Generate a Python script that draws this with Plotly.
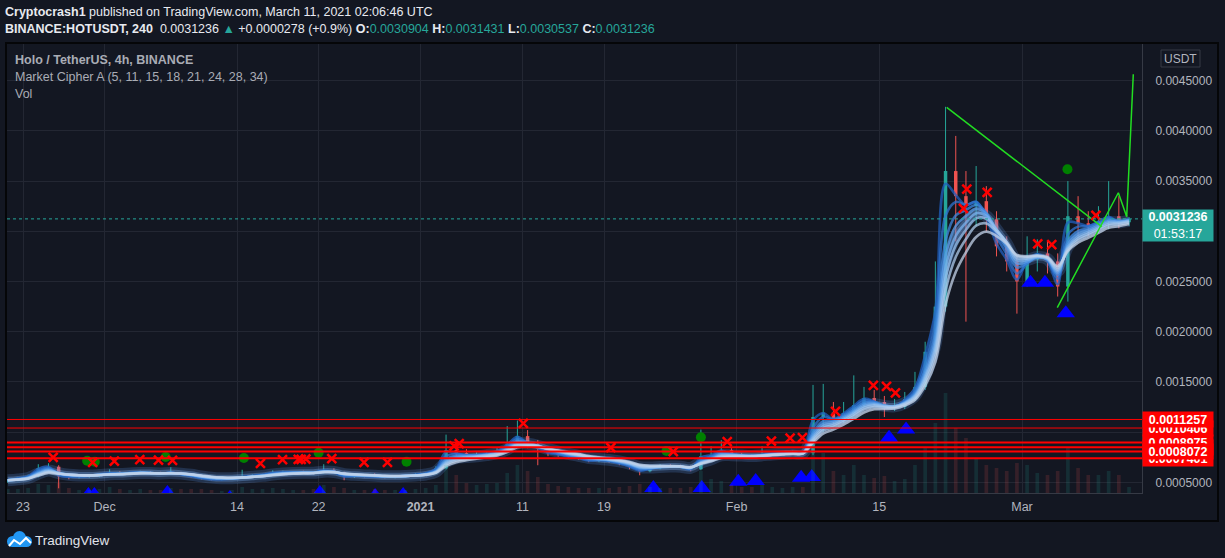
import pandas as pd
import plotly.graph_objects as go

first_day = "2020-11-21 12:00"

opens = [
    # Nov 21 - 30
    0.000505, 0.000520, 0.000540, 0.000560, 0.000640, 0.000655, 0.000560, 0.000555, 0.000560, 0.000565,
    # Dec
    0.000580, 0.000590, 0.000585, 0.000595, 0.000600, 0.000590, 0.000585, 0.000595, 0.000580, 0.000560,
    0.000540, 0.000530, 0.000532, 0.000540, 0.000555, 0.000565, 0.000575, 0.000595, 0.000598, 0.000600,
    0.000597, 0.000595, 0.000620, 0.000600, 0.000555, 0.000565, 0.000562, 0.000560, 0.000555, 0.000558,
    0.000565,
    # Jan
    0.000575, 0.000590, 0.000640, 0.000820, 0.000790, 0.000765, 0.000770, 0.000785, 0.000810, 0.000880,
    0.000960, 0.000880, 0.000840, 0.000790, 0.000775, 0.000755, 0.000740, 0.000715, 0.000722, 0.000712,
    0.000688, 0.000655, 0.000610, 0.000640, 0.000662, 0.000660, 0.000655, 0.000630, 0.000760, 0.000770,
    0.000820,
    # Feb
    0.000772, 0.000760, 0.000758, 0.000775, 0.000790, 0.000792, 0.000798, 0.000790, 0.001150, 0.001195,
    0.001120, 0.001190, 0.001270, 0.001340, 0.001300, 0.001240, 0.001250, 0.001330, 0.001450, 0.001800,
    0.002250, 0.003600, 0.003350, 0.003250, 0.003300, 0.003120, 0.002850, 0.002700,
    # Mar 1 - 11
    0.002500, 0.002720, 0.002780, 0.002700, 0.002450, 0.003150, 0.003080, 0.003050, 0.003100, 0.003150,
    0.003090,
]
highs = [
    0.000530, 0.000545, 0.000575, 0.000680, 0.000690, 0.000670, 0.000585, 0.000575, 0.000580, 0.000590,
    0.000630, 0.000610, 0.000605, 0.000615, 0.000610, 0.000605, 0.000650, 0.000605, 0.000590, 0.000570,
    0.000555, 0.000545, 0.000550, 0.000625, 0.000580, 0.000585, 0.000620, 0.000615, 0.000612, 0.000615,
    0.000610, 0.000680, 0.000640, 0.000605, 0.000575, 0.000580, 0.000590, 0.000575, 0.000570, 0.000580,
    0.000590,
    0.000600, 0.000660, 0.000975, 0.000900, 0.000830, 0.000800, 0.000810, 0.000840, 0.001060, 0.001115,
    0.001020, 0.000920, 0.000860, 0.000820, 0.000800, 0.000780, 0.000760, 0.000745, 0.000740, 0.000725,
    0.000700, 0.000665, 0.000650, 0.000680, 0.000680, 0.000675, 0.000665, 0.001025, 0.000860, 0.000920,
    0.000840,
    0.000790, 0.000780, 0.000860, 0.000810, 0.000810, 0.000815, 0.000815, 0.001470, 0.001480, 0.001300,
    0.001300, 0.001565, 0.001450, 0.001420, 0.001360, 0.001330, 0.001400, 0.001600, 0.001900, 0.002700,
    0.004240, 0.003950, 0.003600, 0.003650, 0.003450, 0.003200, 0.002950, 0.002750,
    0.002950, 0.002920, 0.002900, 0.002780, 0.003500, 0.003350, 0.003200, 0.003250, 0.003500, 0.003350,
    0.003143,
]
lows = [
    0.000495, 0.000510, 0.000530, 0.000550, 0.000610, 0.000440, 0.000530, 0.000540, 0.000545, 0.000550,
    0.000565, 0.000570, 0.000575, 0.000585, 0.000580, 0.000575, 0.000575, 0.000570, 0.000550, 0.000530,
    0.000520, 0.000520, 0.000525, 0.000535, 0.000545, 0.000550, 0.000565, 0.000580, 0.000585, 0.000585,
    0.000580, 0.000585, 0.000590, 0.000520, 0.000545, 0.000550, 0.000550, 0.000540, 0.000540, 0.000548,
    0.000558,
    0.000565, 0.000580, 0.000630, 0.000760, 0.000740, 0.000745, 0.000755, 0.000770, 0.000800, 0.000860,
    0.000840, 0.000670, 0.000760, 0.000755, 0.000740, 0.000725, 0.000700, 0.000700, 0.000695, 0.000670,
    0.000630, 0.000570, 0.000600, 0.000630, 0.000645, 0.000640, 0.000610, 0.000620, 0.000720, 0.000750,
    0.000750,
    0.000745, 0.000740, 0.000750, 0.000765, 0.000775, 0.000780, 0.000770, 0.000770, 0.001000, 0.001080,
    0.001090, 0.001160, 0.001250, 0.001260, 0.001150, 0.001210, 0.001230, 0.001310, 0.001420, 0.001780,
    0.002200, 0.002900, 0.002100, 0.003050, 0.003000, 0.002750, 0.002600, 0.002180,
    0.002450, 0.002600, 0.002580, 0.002350, 0.002300, 0.002950, 0.002950, 0.002980, 0.003020, 0.003030,
    0.003054,
]
closes = [
    0.000520, 0.000540, 0.000560, 0.000640, 0.000655, 0.000560, 0.000555, 0.000560, 0.000565, 0.000580,
    0.000590, 0.000585, 0.000595, 0.000600, 0.000590, 0.000585, 0.000595, 0.000580, 0.000560, 0.000540,
    0.000530, 0.000532, 0.000540, 0.000555, 0.000565, 0.000575, 0.000595, 0.000598, 0.000600, 0.000597,
    0.000595, 0.000620, 0.000600, 0.000555, 0.000565, 0.000562, 0.000560, 0.000555, 0.000558, 0.000565,
    0.000575,
    0.000590, 0.000640, 0.000820, 0.000790, 0.000765, 0.000770, 0.000785, 0.000810, 0.000880, 0.000960,
    0.000880, 0.000840, 0.000790, 0.000775, 0.000755, 0.000740, 0.000715, 0.000722, 0.000712, 0.000688,
    0.000655, 0.000610, 0.000640, 0.000662, 0.000660, 0.000655, 0.000630, 0.000760, 0.000770, 0.000820,
    0.000772,
    0.000760, 0.000758, 0.000775, 0.000790, 0.000792, 0.000798, 0.000790, 0.001150, 0.001195, 0.001120,
    0.001190, 0.001270, 0.001340, 0.001300, 0.001240, 0.001250, 0.001330, 0.001450, 0.001800, 0.002250,
    0.003600, 0.003350, 0.003250, 0.003300, 0.003120, 0.002850, 0.002700, 0.002500,
    0.002720, 0.002780, 0.002700, 0.002450, 0.003150, 0.003080, 0.003050, 0.003100, 0.003150, 0.003090,
    0.0031236,
]
volumes = [
    4, 4, 5, 9, 8, 10, 5, 3, 3, 4,
    6, 4, 3, 4, 3, 3, 5, 4, 4, 4, 3, 2, 3, 6, 4, 4, 5, 4, 3, 3, 4, 8, 6, 5, 3, 3, 4, 3, 3, 3, 4,
    5, 8, 28, 18, 10, 8, 9, 10, 20, 28, 22, 16, 9, 7, 6, 5, 5, 5, 5, 6, 7, 9, 6, 5, 5, 5, 6, 22, 14, 12, 8,
    6, 6, 8, 6, 5, 6, 6, 45, 40, 22, 18, 28, 18, 15, 17, 12, 14, 28, 45, 70, 100, 65, 55, 35, 28, 25, 22, 30,
    28, 20, 18, 22, 45, 25, 18, 18, 22, 18, 6,
]

# Market Cipher A signals
cross_dates = ["2020-11-25 23:00", "2020-11-29 20:00", "2020-12-01 23:00", "2020-12-04 11:00",
               "2020-12-06 07:00", "2020-12-07 16:00", "2020-12-16 07:00", "2020-12-18 11:00",
               "2020-12-20 00:00", "2020-12-20 07:00", "2020-12-20 18:00", "2020-12-23 07:00",
               "2020-12-26 11:00", "2020-12-28 18:00", "2021-01-04 07:00", "2021-01-04 19:00",
               "2021-01-11 02:00", "2021-01-19 16:00", "2021-01-25 19:00", "2021-01-31 02:00",
               "2021-02-04 10:00", "2021-02-06 06:00", "2021-02-07 11:00", "2021-02-10 17:00",
               "2021-02-14 10:00", "2021-02-15 17:00", "2021-02-16 14:00", "2021-02-23 06:00",
               "2021-02-23 14:00", "2021-02-25 14:00", "2021-03-02 13:00", "2021-03-03 22:00",
               "2021-03-08 06:00"]
cross_prices = [0.000749, 0.000699, 0.000712, 0.000725, 0.000722, 0.000719, 0.000689, 0.000725,
                0.000729, 0.000729, 0.000732, 0.000735, 0.000699, 0.000699, 0.000862, 0.000884,
                0.001088, 0.000845, 0.000805, 0.000904, 0.000911, 0.000941, 0.000944, 0.001206,
                0.001465, 0.001455, 0.001390, 0.003229, 0.003421, 0.003388, 0.002874, 0.002867,
                0.003159]
dot_dates = ["2020-11-29 07:00", "2020-11-30 01:00", "2020-12-07 00:00", "2020-12-14 16:00",
             "2020-12-22 00:00", "2020-12-30 15:00", "2021-01-25 03:00", "2021-01-28 12:00",
             "2021-03-05 11:00"]
dot_prices = [0.000715, 0.000705, 0.000752, 0.000742, 0.000795, 0.000705, 0.000812, 0.000948, 0.003618]
tri_dates = ["2020-11-29 10:00", "2020-11-30 00:00", "2020-12-07 04:00", "2020-12-13 07:00",
             "2020-12-22 03:00", "2020-12-27 13:00", "2020-12-30 07:00", "2021-01-23 20:00",
             "2021-01-28 14:00", "2021-02-01 04:00", "2021-02-02 21:00", "2021-02-07 08:00",
             "2021-02-08 09:00", "2021-02-15 23:00", "2021-02-17 15:00", "2021-03-01 20:00",
             "2021-03-03 06:00", "2021-03-05 07:00"]
tri_prices = [0.000374, 0.000374, 0.000394, 0.000344, 0.000394, 0.000364, 0.000374, 0.000443,
              0.000443, 0.000506, 0.000513, 0.000546, 0.000553, 0.000943, 0.001025, 0.002488,
              0.002488, 0.002183]

# drawings by the author
levels = [0.0011257, 0.0010406, 0.0008975, 0.0008486, 0.0008072, 0.0007401]
wedge_top_dates = ["2021-02-21 14:40", "2021-03-08 19:40"]
wedge_top_prices = [0.004235, 0.003046]
wedge_low_dates = ["2021-03-04 11:00", "2021-03-10 10:50", "2021-03-11 06:30", "2021-03-11 22:00"]
wedge_low_prices = [0.002239, 0.003384, 0.003145, 0.004564]

last_price = 0.0031236
tick_dates = ["2020-11-23", "2020-12-01", "2020-12-14", "2020-12-22", "2021-01-01",
              "2021-01-11", "2021-01-19", "2021-02-01", "2021-02-15", "2021-03-01"]
tick_text = ["23", "Dec", "14", "22", "<b>2021</b>", "11", "19", "Feb", "15", "Mar"]
price_ticks = [0.0005, 0.0010, 0.0015, 0.0020, 0.0025, 0.0030, 0.0035, 0.0040, 0.0045]

ema_lengths = [5, 11, 15, 18, 21, 24, 28, 34]

# ------------------------------------------------
BG = "#131722"
GRID = "#232733"
TXT = "#b2b5be"
UP = "#26a69a"
DOWN = "#ef5350"
FONT = "Liberation Sans, Arial, sans-serif"
DAY_MS = 86400000

W, H = 1225, 558
L, R, T, B = 7, 83, 43, 65
PW, PH = W - L - R, H - T - B


def xp(px):
    return (px - L) / PW


def yp(py):
    return (H - B - py) / PH


days = pd.date_range(first_day, periods=len(closes), freq="D")
is_up = [c >= o for o, c in zip(opens, closes)]

fig = go.Figure()

# volume (own hidden axis)
fig.add_trace(go.Bar(x=days, y=volumes, yaxis="y2", width=0.36 * DAY_MS,
                     marker=dict(color=["rgba(38,166,154,0.16)" if u else "rgba(239,83,80,0.16)" for u in is_up],
                                 line_width=0)))

# candles: wicks + bodies
for flag, col in [(True, UP), (False, DOWN)]:
    wx, wy = [], []
    bx, bbase, bh = [], [], []
    for d, o, h, l, c, u in zip(days, opens, highs, lows, closes, is_up):
        if u != flag:
            continue
        wx += [d, d, None]
        wy += [l, h, None]
        bx.append(d)
        bbase.append(min(o, c))
        bh.append(max(abs(c - o), 0.000004))
    fig.add_trace(go.Scatter(x=wx, y=wy, mode="lines", line=dict(color=col, width=1)))
    fig.add_trace(go.Bar(x=bx, y=bh, base=bbase, width=0.34 * DAY_MS,
                         marker=dict(color=col, line_width=0)))

# Market Cipher A ribbon (EMAs of 4h lengths, expressed in days)
close_s = pd.Series(closes)
ribbon_colors = ["#1f5fbf", "#2f74d0", "#3f88de", "#5a9de8", "#7ab2ee", "#98c2ef", "#aecbec", "#c4d4ea"]
glow = close_s.ewm(span=21 / 6, adjust=False).mean()
fig.add_trace(go.Scatter(x=days, y=glow, mode="lines",
                         line=dict(color="rgba(90,150,230,0.22)", width=12, shape="spline")))
fig.add_trace(go.Scatter(x=days, y=glow, mode="lines",
                         line=dict(color="rgba(120,175,240,0.35)", width=7, shape="spline")))
for n, col in zip(ema_lengths, ribbon_colors):
    ema = close_s.ewm(span=max(n / 6, 1.2), adjust=False).mean()
    fig.add_trace(go.Scatter(x=days, y=ema, mode="lines", opacity=0.75,
                             line=dict(color=col, width=2.6, shape="spline")))

# green trend lines
fig.add_trace(go.Scatter(x=wedge_top_dates, y=wedge_top_prices, mode="lines", line=dict(color="#22dd22", width=1.5)))
fig.add_trace(go.Scatter(x=wedge_low_dates, y=wedge_low_prices, mode="lines", line=dict(color="#22dd22", width=1.5)))

# signals
fig.add_trace(go.Scatter(x=dot_dates, y=dot_prices, mode="markers",
                         marker=dict(symbol="circle", size=10, color="#008000")))
fig.add_trace(go.Scatter(x=cross_dates, y=cross_prices, mode="markers",
                         marker=dict(symbol="x-thin", size=9, line=dict(color="#ff0000", width=2.5))))
fig.add_trace(go.Scatter(x=tri_dates, y=tri_prices, mode="markers",
                         marker=dict(symbol="triangle-up", size=16, color="#0000ff")))

shapes = []
# horizontal levels
for i, lv in enumerate(levels):
    shapes.append(dict(type="line", xref="paper", yref="y", x0=0, x1=1, y0=lv, y1=lv,
                       line=dict(color="#ff0000", width=1 if i < 2 else 2), layer="above"))
# last price dotted line
shapes.append(dict(type="line", xref="paper", yref="y", x0=0, x1=1, y0=last_price, y1=last_price,
                   line=dict(color=UP, width=1, dash="dot"), layer="above"))
# chart frame
shapes.append(dict(type="rect", xref="paper", yref="paper", x0=xp(6), x1=xp(1218), y0=yp(43), y1=yp(521),
                   line=dict(color="#050608", width=2)))
# USDT box
shapes.append(dict(type="rect", xref="paper", yref="paper", x0=xp(1161), x1=xp(1200), y0=yp(50), y1=yp(67),
                   line=dict(color="#363a45", width=1)))
# TradingView logo
for cx0, cy0, cx1, cy1 in [(7, 536, 18, 547), (13, 531, 26, 544), (21, 536, 32, 547)]:
    shapes.append(dict(type="circle", xref="paper", yref="paper", x0=xp(cx0), x1=xp(cx1), y0=yp(cy0), y1=yp(cy1),
                       fillcolor="#2196f3", line_width=0))
shapes.append(dict(type="rect", xref="paper", yref="paper", x0=xp(12), x1=xp(27), y0=yp(540), y1=yp(547),
                   fillcolor="#2196f3", line_width=0))
zig = [(9, 546), (14, 540), (20, 544), (26, 538), (31, 543)]
shapes.append(dict(type="path", xref="paper", yref="paper",
                   path="M " + " L ".join(f"{xp(a):.5f},{yp(b):.5f}" for a, b in zig),
                   line=dict(color="#ffffff", width=2)))

ann = []


def text(px, py, s, size=13, color=TXT, anchor="left"):
    ann.append(dict(xref="paper", yref="paper", x=xp(px), y=yp(py), text=s, showarrow=False,
                    xanchor=anchor, yanchor="middle", font=dict(size=size, color=color, family=FONT)))


teal = f"<span style='color:{UP}'>"
text(3, 12, "<b>Cryptocrash1</b> published on TradingView.com, March 11, 2021 02:06:46 UTC", 12.5, "#e8eaf0")
text(3, 29, "<b>BINANCE:HOTUSDT, 240</b>  0.0031236 " + teal + "▲</span> +0.0000278 (+0.9%) "
     "<b>O:</b>" + teal + "0.0030904</span> <b>H:</b>" + teal + "0.0031431</span> "
     "<b>L:</b>" + teal + "0.0030537</span> <b>C:</b>" + teal + "0.0031236</span>", 12.5, "#e8eaf0")
text(13, 60, "<b>Holo / TetherUS, 4h, BINANCE</b>", 12.5, "#a9acb5")
text(13, 77, "Market Cipher A (5, 11, 15, 18, 21, 24, 28, 34)", 12.5, "#a9acb5")
text(13, 94, "Vol", 12.5, "#a9acb5")
text(1180.5, 58.5, "USDT", 12, TXT, "center")
text(33, 540, "TradingView", 13.5, "#e0e3eb")

# price labels on the axis (later ones cover earlier ones)
for lv in [0.0007401, 0.0008486, 0.0008975, 0.0010406, 0.0011257, 0.0008072]:
    ann.append(dict(xref="paper", yref="y", x=1, y=lv, xanchor="left", yanchor="middle",
                    text=f"<b>{lv:.7f}</b>", showarrow=False, bgcolor="#ff0000", width=68, height=13,
                    borderpad=1, align="center", font=dict(size=12.5, color="#ffffff", family=FONT)))
ann.append(dict(xref="paper", yref="paper", x=1, y=yp(225.5), xanchor="left", yanchor="middle",
                text=f"<b>{last_price:.7f}</b><br>01:53:17", showarrow=False, bgcolor=UP, width=68, height=29,
                borderpad=1, align="center", font=dict(size=12.5, color="#ffffff", family=FONT)))

fig.update_layout(
    width=W, height=H, margin=dict(l=L, r=R, t=T, b=B),
    paper_bgcolor=BG, plot_bgcolor=BG, showlegend=False, barmode="overlay",
    font=dict(family=FONT, color=TXT, size=12.5),
    shapes=shapes, annotations=ann,
    xaxis=dict(type="date", range=["2020-11-21 10:20", "2021-03-12 18:30"],
               tickvals=tick_dates, ticktext=tick_text, showgrid=True, gridcolor=GRID,
               ticks="", showline=True, linecolor="#363a45", zeroline=False,
               tickfont=dict(size=12.5, color=TXT), ticklabelstandoff=2),
    yaxis=dict(side="right", range=[0.0003934, 0.0048755], tickvals=price_ticks, tickformat=".7f",
               showgrid=True, gridcolor=GRID, ticks="", showline=True, linecolor="#363a45",
               zeroline=False, tickfont=dict(size=12, color=TXT), ticklabelstandoff=10),
    yaxis2=dict(overlaying="y", range=[0, 450], visible=False),
)

# page has a default 8px body margin - drop it so the figure sits at the window corner
fig.write_html("out.html", config={"displayModeBar": False},
               post_script="document.body.style.margin='0px';")
